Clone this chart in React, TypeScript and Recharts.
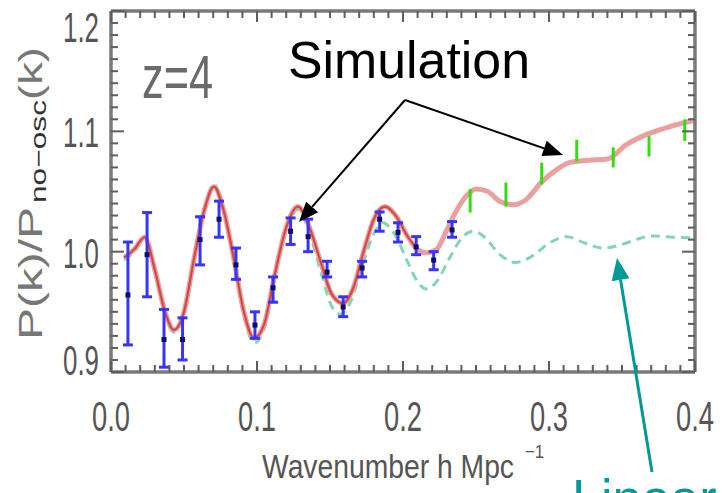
import React from 'react';
import { ComposedChart, Line, Scatter, ErrorBar, XAxis, YAxis } from 'recharts';

const W = 722;
const H = 493;

// Simulation (red) curve
const simK = [0.009, 0.016, 0.023, 0.030, 0.037, 0.043, 0.050, 0.057, 0.064, 0.0705, 0.077, 0.084, 0.091, 0.098, 0.105, 0.112, 0.120, 0.128, 0.136, 0.144, 0.151, 0.159, 0.166, 0.173, 0.180, 0.1877, 0.195, 0.203, 0.209, 0.216, 0.223, 0.230, 0.237, 0.244, 0.250, 0.258, 0.266, 0.275, 0.284, 0.295, 0.305, 0.314, 0.327, 0.340, 0.353, 0.367, 0.383, 0.399];
const simV = [0.995, 1.002, 1.012, 0.985, 0.950, 0.935, 0.950, 0.995, 1.035, 1.054, 1.035, 0.995, 0.950, 0.928, 0.940, 0.980, 1.020, 1.0375, 1.020, 0.990, 0.965, 0.957, 0.970, 1.000, 1.027, 1.0375, 1.030, 1.013, 1.003, 0.999, 1.002, 1.018, 1.035, 1.047, 1.052, 1.050, 1.042, 1.039, 1.043, 1.058, 1.068, 1.074, 1.076, 1.077, 1.089, 1.0975, 1.104, 1.109];

// Linear theory (green dashed) curve
const linK = [0.009, 0.016, 0.023, 0.030, 0.037, 0.043, 0.050, 0.057, 0.064, 0.0705, 0.077, 0.084, 0.091, 0.098, 0.105, 0.112, 0.120, 0.128, 0.136, 0.144, 0.151, 0.157, 0.164, 0.172, 0.180, 0.186, 0.194, 0.203, 0.210, 0.216, 0.223, 0.232, 0.240, 0.248, 0.256, 0.266, 0.277, 0.288, 0.300, 0.312, 0.325, 0.337, 0.350, 0.362, 0.371, 0.385, 0.399];
const linV = [0.993, 1.000, 1.010, 0.983, 0.948, 0.933, 0.948, 0.993, 1.035, 1.056, 1.035, 0.993, 0.947, 0.924, 0.936, 0.977, 1.017, 1.035, 1.015, 0.982, 0.955, 0.948, 0.958, 0.988, 1.015, 1.024, 1.015, 0.992, 0.975, 0.969, 0.975, 0.995, 1.011, 1.017, 1.012, 0.998, 0.991, 0.996, 1.007, 1.0125, 1.007, 1.003, 1.006, 1.011, 1.013, 1.012, 1.0115];

// Blue measurements with error bars
const blueK = [0.0116, 0.0247, 0.0363, 0.049, 0.061, 0.074, 0.0856, 0.0986, 0.111, 0.123, 0.135, 0.148, 0.159, 0.172, 0.184, 0.1966, 0.209, 0.221, 0.2336];
const blueV = [0.964, 0.9975, 0.927, 0.927, 1.010, 1.027, 0.989, 0.939, 0.970, 1.017, 1.0125, 0.983, 0.954, 0.9865, 1.027, 1.016, 1.004, 0.993, 1.018];
const blueLo = [0.9225, 0.9625, 0.904, 0.910, 0.989, 1.012, 0.977, 0.928, 0.958, 1.006, 1.000, 0.979, 0.946, 0.979, 1.017, 1.008, 0.9975, 0.985, 1.012];
const blueHi = [1.008, 1.0325, 0.952, 0.945, 1.029, 1.042, 1.003, 0.950, 0.979, 1.028, 1.027, 0.992, 0.9625, 0.992, 1.033, 1.024, 1.0125, 1.000, 1.025];

// Green measurements (error bars only)
const greenK = [0.246, 0.2705, 0.295, 0.319, 0.344, 0.3685, 0.393];
const greenLo = [1.0325, 1.0375, 1.056, 1.075, 1.070, 1.079, 1.092];
const greenHi = [1.052, 1.0575, 1.074, 1.093, 1.0867, 1.096, 1.110];

const xTickLabels = ['0.0', '0.1', '0.2', '0.3', '0.4'];
const yTickLabels = ['0.9', '1.0', '1.1', '1.2'];
const xTicks = Array.from({ length: 41 }, (_, i) => i / 100);
const yTicks = Array.from({ length: 31 }, (_, i) => (90 + i) / 100);

const simData = simK.map((k, i) => ({ k, v: simV[i] }));
const simLeft = simData.filter((d) => d.k <= 0.21);
const linData = linK.map((k, i) => ({ k, v: linV[i] }));
const blueData = blueK.map((k, i) => ({ k, v: blueV[i], err: [blueV[i] - blueLo[i], blueHi[i] - blueV[i]] }));
const greenData = greenK.map((k, i) => {
  const v = (greenLo[i] + greenHi[i]) / 2;
  return { k, v, err: [v - greenLo[i], greenHi[i] - v] };
});

const FONT = 'Liberation Sans, Arial, sans-serif';
const GRAY = '#7a7a7a';
const TICK = '#5e5e5e';
const LABEL = '#555555';

const isMajor = (v: number) => Math.abs(v * 10 - Math.round(v * 10)) < 1e-6;

function BottomTick(props: any) {
  const { x, y, payload } = props;
  const v = payload.value as number;
  const major = isMajor(v);
  return (
    <g>
      <line x1={x} x2={x} y1={y} y2={y - (major ? 11 : 7)} stroke={TICK} strokeWidth={2} />
      {major && (
        <text x={x} y={y + 59} textAnchor="middle" fontSize={42} fill={LABEL} fontFamily={FONT}
          textLength={38} lengthAdjust="spacingAndGlyphs">
          {xTickLabels[Math.round(v * 10)]}
        </text>
      )}
    </g>
  );
}

function TopTick(props: any) {
  const { x, y, payload } = props;
  const major = isMajor(payload.value);
  return <line x1={x} x2={x} y1={y} y2={y + (major ? 11 : 7)} stroke={TICK} strokeWidth={2} />;
}

function LeftTick(props: any) {
  const { x, y, payload } = props;
  const v = payload.value as number;
  const major = isMajor(v);
  const idx = Math.round(v * 10) - 9;
  const dy = idx === yTickLabels.length - 1 ? 31 : idx === 0 ? 3 : 16;
  return (
    <g>
      <line x1={x} x2={x + (major ? 13 : 7)} y1={y} y2={y} stroke={TICK} strokeWidth={2} />
      {major && (
        <text x={x - 12} y={y + dy} textAnchor="end" fontSize={42} fill={LABEL} fontFamily={FONT}
          textLength={36} lengthAdjust="spacingAndGlyphs">
          {yTickLabels[idx]}
        </text>
      )}
    </g>
  );
}

function RightTick(props: any) {
  const { x, y, payload } = props;
  const major = isMajor(payload.value);
  return <line x1={x} x2={x - (major ? 13 : 7)} y1={y} y2={y} stroke={TICK} strokeWidth={2} />;
}

function BlueDot(props: any) {
  const { cx, cy } = props;
  if (cx == null || cy == null) return <g />;
  return <rect x={cx - 2.5} y={cy - 2.5} width={5} height={5} fill="#10105a" />;
}

function NoDot() {
  return <g />;
}

function Arrow({ x1, y1, x2, y2, color, width, len, hw }: any) {
  const dx = x2 - x1;
  const dy = y2 - y1;
  const d = Math.hypot(dx, dy);
  const ux = dx / d;
  const uy = dy / d;
  const bx = x2 - ux * len;
  const by = y2 - uy * len;
  const px = -uy * hw;
  const py = ux * hw;
  return (
    <g>
      <line x1={x1} y1={y1} x2={bx} y2={by} stroke={color} strokeWidth={width} />
      <polygon points={`${x2},${y2} ${bx + px},${by + py} ${bx - px},${by - py}`} fill={color} />
    </g>
  );
}

export default function App() {
  return (
    <div style={{ position: 'absolute', left: 0, top: 0, width: W, height: H, overflow: 'hidden', background: '#fff' }}>
      <ComposedChart width={W} height={H} margin={{ top: 10, right: 26, bottom: 60, left: 51 }}>
        <XAxis dataKey="k" type="number" domain={[0, 0.4]} ticks={xTicks} interval={0} allowDataOverflow
          tick={BottomTick} tickLine={false} tickSize={0} tickMargin={0} height={61}
          axisLine={{ stroke: GRAY, strokeWidth: 3.5 }} />
        <XAxis xAxisId="top" orientation="top" dataKey="k" type="number" domain={[0, 0.4]} ticks={xTicks}
          interval={0} allowDataOverflow tick={TopTick} tickLine={false} tickSize={0} tickMargin={0} height={1}
          axisLine={{ stroke: GRAY, strokeWidth: 3.5 }} />
        <YAxis type="number" domain={[0.9, 1.2]} ticks={yTicks} interval={0} allowDataOverflow
          tick={LeftTick} tickLine={false} tickSize={0} tickMargin={0} width={60}
          axisLine={{ stroke: GRAY, strokeWidth: 3.5 }} />
        <YAxis yAxisId="right" orientation="right" type="number" domain={[0.9, 1.2]} ticks={yTicks} interval={0}
          allowDataOverflow tick={RightTick} tickLine={false} tickSize={0} tickMargin={0} width={1}
          axisLine={{ stroke: GRAY, strokeWidth: 3.5 }} />
        <Line data={linData} dataKey="v" type="monotone" stroke="#82d6b4" strokeWidth={3}
          strokeDasharray="9 6" dot={false} activeDot={false} isAnimationActive={false} />
        <Line data={simData} dataKey="v" type="monotone" stroke="#eba0a0" strokeWidth={5}
          dot={false} activeDot={false} isAnimationActive={false} />
        <Line data={simLeft} dataKey="v" type="monotone" stroke="#d44848" strokeWidth={2.2}
          dot={false} activeDot={false} isAnimationActive={false} />
        <Scatter data={blueData} dataKey="v" shape={BlueDot} isAnimationActive={false}>
          <ErrorBar dataKey="err" direction="y" width={5} stroke="#3535ff" strokeWidth={3} isAnimationActive={false} />
        </Scatter>
        <Scatter data={greenData} dataKey="v" shape={NoDot} isAnimationActive={false}>
          <ErrorBar dataKey="err" direction="y" width={0} stroke="#33dd11" strokeWidth={3} isAnimationActive={false} />
        </Scatter>
      </ComposedChart>
      <svg width={W} height={H} style={{ position: 'absolute', left: 0, top: 0, pointerEvents: 'none' }}>
        <text x={142} y={98} fontSize={62} fill="#6a6a6a" fontFamily={FONT} textLength={71}
          lengthAdjust="spacingAndGlyphs">z=4</text>
        <text x={288} y={78} fontSize={52} fill="#000" fontFamily={FONT} textLength={242}
          lengthAdjust="spacingAndGlyphs">Simulation</text>
        <Arrow x1={405} y1={100} x2={299} y2={222} color="#000" width={2} len={20} hw={8} />
        <Arrow x1={405} y1={100} x2={563} y2={155} color="#000" width={2} len={20} hw={8} />
        <Arrow x1={652} y1={472} x2={617} y2={258} color="#009a96" width={3} len={22} hw={9} />
        <text x={572} y={516} fontSize={52} fill="#009a96" fontFamily={FONT}>Linear</text>
        <text x={262} y={478} fontSize={34} fill={LABEL} fontFamily={FONT} textLength={252}
          lengthAdjust="spacingAndGlyphs">Wavenumber  h  Mpc</text>
        <text x={525} y={458} fontSize={19} fill={LABEL} fontFamily={FONT} textLength={19}
          lengthAdjust="spacingAndGlyphs">−1</text>
        <text transform="translate(42,340) rotate(-90)" fontSize={34} fill="#777" fontFamily={FONT}
          textLength={133} lengthAdjust="spacingAndGlyphs">P(k)/P</text>
        <text transform="translate(46,203) rotate(-90)" fontSize={22} fill="#333" fontFamily={FONT}
          textLength={103} lengthAdjust="spacingAndGlyphs">no−osc</text>
        <text transform="translate(42,100) rotate(-90)" fontSize={34} fill="#777" fontFamily={FONT}
          textLength={53} lengthAdjust="spacingAndGlyphs">(k)</text>
      </svg>
    </div>
  );
}
